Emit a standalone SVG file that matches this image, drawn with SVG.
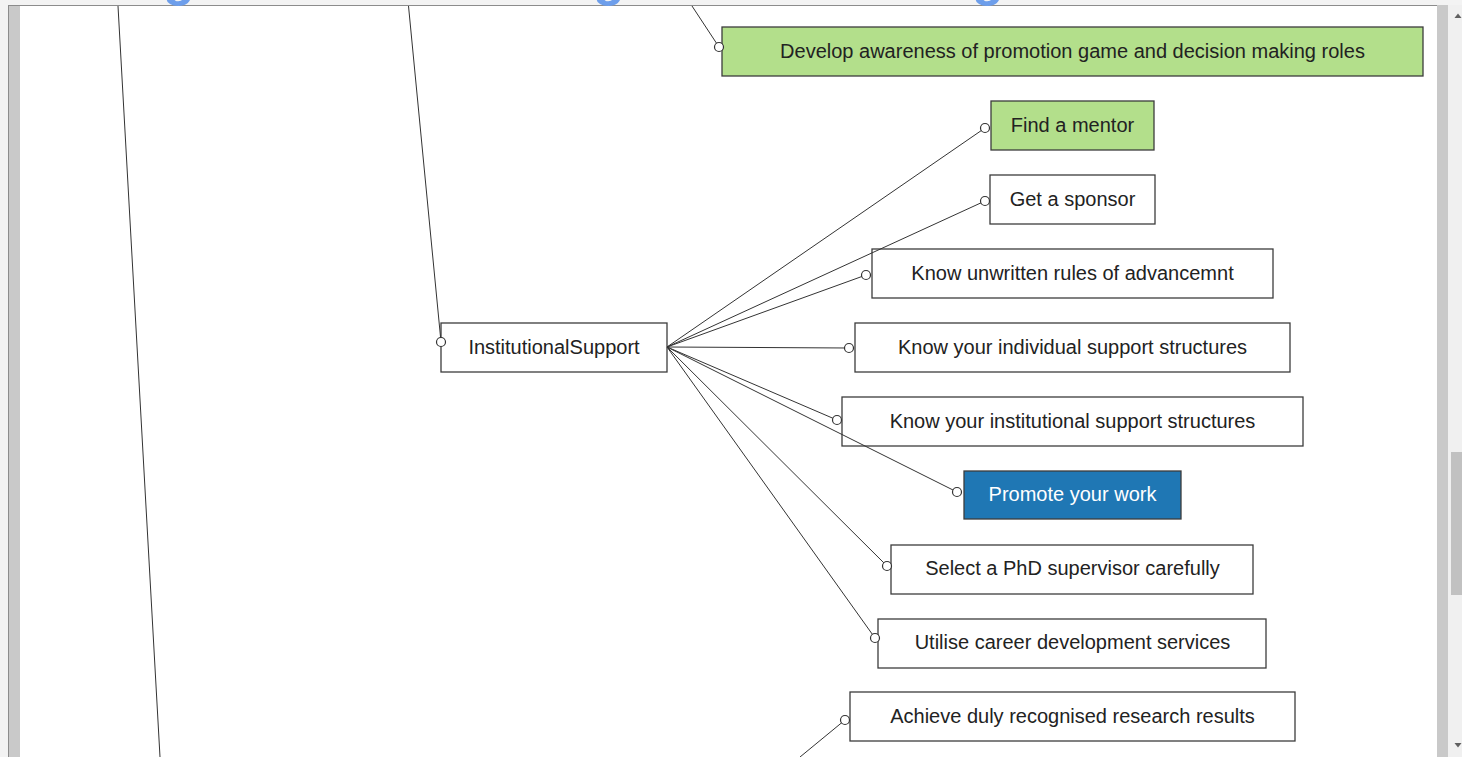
<svg xmlns="http://www.w3.org/2000/svg" width="1462" height="757" viewBox="0 0 1462 757">
  <style>
    .box { stroke: #3c3c3c; stroke-width: 1.3; }
    .plain { fill: #ffffff; }
    .green { fill: #b3df8b; }
    .blue { fill: #1f77b4; }
    .label { font-family: "Liberation Sans", Arial, sans-serif; font-size: 20px; fill: #222222; text-anchor: middle; }
    .label.light { fill: #ffffff; }
    .edge { stroke: #333333; stroke-width: 1; fill: none; }
    .port { fill: #ffffff; stroke: #333333; stroke-width: 1.2; }
    .title { font-family: "Liberation Sans", Arial, sans-serif; font-weight: bold; font-size: 52px; fill: #6d9eeb; }
  </style>
  <defs>
    <clipPath id="viewport">
      <rect x="20" y="6" width="1417" height="751"/>
    </clipPath>
    <clipPath id="band">
      <rect x="0" y="0" width="1462" height="6"/>
    </clipPath>
  </defs>

  <!-- window chrome -->
  <rect x="0" y="0" width="1462" height="757" fill="#ffffff"/>
  <rect x="0" y="0" width="1462" height="6" fill="#f3f3f3"/>
  <rect x="0" y="0" width="8" height="757" fill="#f3f3f3"/>
  <rect x="9" y="6" width="11" height="751" fill="#c9c9c9"/>
  <line x1="8" y1="5.5" x2="1437" y2="5.5" stroke="#8c8c8c" stroke-width="1"/>
  <line x1="8.5" y1="5" x2="8.5" y2="757" stroke="#8c8c8c" stroke-width="1"/>
  <rect x="1437" y="5" width="11" height="752" fill="#c9c9c9"/>
  <rect x="1448" y="5" width="14" height="752" fill="#f0f0f0"/>
  <rect x="1451" y="452" width="11" height="143" fill="#c1c1c1"/>
  <polygon points="1454.5,18 1458,13.5 1461.5,18" fill="#606060"/>
  <polygon points="1454.5,743 1458,747.5 1461.5,743" fill="#606060"/>

  <g clip-path="url(#viewport)">
    <!-- nodes -->
    <g id="node-develop-awareness">
      <rect class="box green" x="722" y="27" width="701" height="49"/>
      <text class="label" x="1072.5" y="57.5">Develop awareness of promotion game and decision making roles</text>
    </g>
    <g id="node-find-mentor">
      <rect class="box green" x="991" y="101" width="163" height="49"/>
      <text class="label" x="1072.5" y="131.5">Find a mentor</text>
    </g>
    <g id="node-get-sponsor">
      <rect class="box plain" x="990" y="175" width="165" height="49"/>
      <text class="label" x="1072.5" y="205.5">Get a sponsor</text>
    </g>
    <g id="node-unwritten-rules">
      <rect class="box plain" x="872" y="249" width="401" height="49"/>
      <text class="label" x="1072.5" y="279.5">Know unwritten rules of advancemnt</text>
    </g>
    <g id="node-individual-support">
      <rect class="box plain" x="855" y="323" width="435" height="49"/>
      <text class="label" x="1072.5" y="353.5">Know your individual support structures</text>
    </g>
    <g id="node-institutional-structures">
      <rect class="box plain" x="842" y="397" width="461" height="49"/>
      <text class="label" x="1072.5" y="427.5">Know your institutional support structures</text>
    </g>
    <g id="node-promote-work">
      <rect class="box blue" x="964" y="471" width="217" height="48"/>
      <text class="label light" x="1072.5" y="501">Promote your work</text>
    </g>
    <g id="node-select-supervisor">
      <rect class="box plain" x="891" y="545" width="362" height="49"/>
      <text class="label" x="1072.5" y="575">Select a PhD supervisor carefully</text>
    </g>
    <g id="node-career-services">
      <rect class="box plain" x="878" y="619" width="388" height="49"/>
      <text class="label" x="1072.5" y="649">Utilise career development services</text>
    </g>
    <g id="node-research-results">
      <rect class="box plain" x="850" y="692" width="445" height="49"/>
      <text class="label" x="1072.5" y="722.5">Achieve duly recognised research results</text>
    </g>
    <g id="node-institutional-support">
      <rect class="box plain" x="441" y="323" width="226" height="49"/>
      <text class="label" x="554" y="353.5">InstitutionalSupport</text>
    </g>

    <!-- connectors -->
    <g id="connectors">
      <line class="edge" x1="118" y1="6" x2="160" y2="757"/>
      <line class="edge" x1="408.5" y1="6" x2="441" y2="342"/>
      <line class="edge" x1="692" y1="6" x2="719" y2="47"/>
      <line class="edge" x1="667" y1="347" x2="985" y2="128"/>
      <line class="edge" x1="667" y1="347" x2="985" y2="201"/>
      <line class="edge" x1="667" y1="347" x2="866" y2="275"/>
      <line class="edge" x1="667" y1="347" x2="849" y2="348"/>
      <line class="edge" x1="667" y1="347" x2="837" y2="420"/>
      <line class="edge" x1="667" y1="347" x2="957" y2="492"/>
      <line class="edge" x1="667" y1="347" x2="887" y2="566"/>
      <line class="edge" x1="667" y1="347" x2="875" y2="638"/>
      <line class="edge" x1="845" y1="720" x2="800" y2="757"/>
      <circle class="port" cx="719" cy="47" r="4.5"/>
      <circle class="port" cx="985" cy="128" r="4.5"/>
      <circle class="port" cx="985" cy="201" r="4.5"/>
      <circle class="port" cx="866" cy="275" r="4.5"/>
      <circle class="port" cx="849" cy="348" r="4.5"/>
      <circle class="port" cx="837" cy="420" r="4.5"/>
      <circle class="port" cx="957" cy="492" r="4.5"/>
      <circle class="port" cx="887" cy="566" r="4.5"/>
      <circle class="port" cx="875" cy="638" r="4.5"/>
      <circle class="port" cx="845" cy="720" r="4.5"/>
      <circle class="port" cx="441" cy="342" r="4.5"/>
    </g>
  </g>

  <!-- heading scrolled above the top edge; only descenders remain -->
  <g clip-path="url(#band)">
    <text class="title" x="163" y="-5">g</text>
    <text class="title" x="593" y="-5">g</text>
    <text class="title" x="972" y="-5">g</text>
  </g>
</svg>
